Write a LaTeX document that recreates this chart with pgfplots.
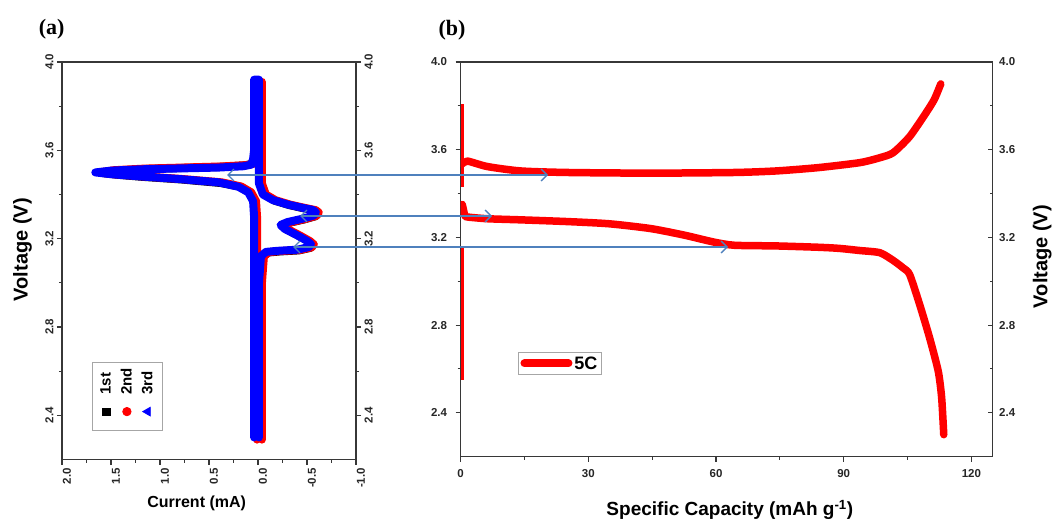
\documentclass[border=0pt]{standalone}
\usepackage{graphicx}
\usepackage{fontspec}
\setmainfont{Liberation Sans}
\newfontfamily\serifbold{Liberation Serif}
\usepackage{pgfplots}
\pgfplotsset{compat=1.18}
\usetikzlibrary{arrows.meta}
\definecolor{arrowblue}{RGB}{79,129,189}
\definecolor{axisgray}{RGB}{55,55,55}
\pgfplotsset{
  base/.style={scale only axis, anchor=south west,
    axis line style={axisgray, line width=1.2pt},
    every tick/.style={axisgray, line width=1.1pt},
    major tick length=5pt, minor tick length=3pt,
    /pgf/number format/assume math mode=true,
    tick label style={font=\bfseries\fontsize{11.5}{13}\selectfont, text=black!85},
  },
  onedec/.style={/pgf/number format/.cd, fixed, fixed zerofill, precision=1},
}
\begin{document}
\begin{tikzpicture}
\path[use as bounding box] (0pt,0pt) rectangle (1054pt,525pt);

% ---------------- panel (a) ----------------
\begin{axis}[base, at={(62pt,65.5pt)}, width=294pt, height=397.5pt,
  xmin=-1, xmax=2, x dir=reverse, ymin=2.2, ymax=4.0,
  xtick={-1,-0.5,0,0.5,1,1.5,2}, minor x tick num=1,
  ytick={2.4,2.8,3.2,3.6,4.0}, minor y tick num=1,
  xtick pos=bottom, ytick pos=left, tick align=outside,
  xticklabel style={onedec, /tikz/rotate=90, /tikz/anchor=east, /tikz/yshift=-5pt},
  yticklabel style={onedec, /tikz/rotate=90, /tikz/anchor=south},
  xlabel={Current (mA)},
  xlabel style={font=\bfseries\fontsize{16}{18}\selectfont, at={(axis description cs:0.458,-0.110)}, anchor=center},
  ylabel={Voltage (V)},
  ylabel style={font=\bfseries\fontsize{20}{22}\selectfont, at={(axis description cs:-0.134,0.528)}, anchor=center, rotate=0},
]
% cycle 1 (black)
\addplot[black, line width=8pt, line join=round, line cap=round] coordinates {
(0.02,2.30) (0.02,3.30) (0.03,3.37) (0.08,3.41) (0.18,3.435) (0.38,3.452) (0.78,3.468) (1.18,3.48) (1.45,3.49) (1.60,3.498)
(1.45,3.507) (1.18,3.515) (0.78,3.52) (0.38,3.525) (0.13,3.532) (0.05,3.54) (0.03,3.565) (0.02,3.60) (0.02,3.90)
(-0.03,3.90) (-0.03,3.45) (-0.07,3.40) (-0.17,3.372) (-0.32,3.352) (-0.47,3.337) (-0.58,3.327) (-0.61,3.317) (-0.59,3.302)
(-0.47,3.287) (-0.32,3.272) (-0.25,3.259) (-0.29,3.242) (-0.42,3.212) (-0.52,3.187) (-0.56,3.172) (-0.54,3.159)
(-0.42,3.147) (-0.22,3.142) (-0.10,3.137) (-0.05,3.117) (-0.03,3.00) (-0.03,2.30)};
% cycle 2 (red)
\addplot[red, line width=8pt, line join=round, line cap=round] coordinates {
(0.01,2.29) (0.01,3.30) (0.02,3.37) (0.07,3.41) (0.17,3.436) (0.37,3.455) (0.77,3.47) (1.17,3.482) (1.47,3.492) (1.62,3.50)
(1.47,3.51) (1.17,3.517) (0.77,3.522) (0.37,3.527) (0.12,3.533) (0.04,3.54) (0.02,3.565) (0.01,3.60) (0.01,3.91)
(-0.04,3.91) (-0.04,3.45) (-0.08,3.40) (-0.18,3.374) (-0.33,3.354) (-0.48,3.339) (-0.59,3.329) (-0.62,3.319) (-0.60,3.304)
(-0.48,3.289) (-0.33,3.274) (-0.26,3.261) (-0.30,3.244) (-0.43,3.214) (-0.53,3.189) (-0.57,3.174) (-0.55,3.161)
(-0.43,3.149) (-0.23,3.144) (-0.11,3.139) (-0.06,3.119) (-0.04,3.00) (-0.04,2.29)};
% cycle 3 (blue)
\addplot[blue, line width=8pt, line join=round, line cap=round] coordinates {
(0.04,2.30) (0.04,3.30) (0.05,3.37) (0.10,3.41) (0.20,3.435) (0.40,3.455) (0.80,3.47) (1.20,3.482) (1.50,3.492) (1.66,3.50)
(1.50,3.508) (1.20,3.514) (0.80,3.518) (0.40,3.522) (0.15,3.528) (0.07,3.535) (0.05,3.56) (0.04,3.60) (0.04,3.92)
(-0.01,3.92) (-0.01,3.45) (-0.05,3.40) (-0.15,3.375) (-0.30,3.355) (-0.45,3.34) (-0.56,3.33) (-0.59,3.32) (-0.57,3.305)
(-0.45,3.29) (-0.30,3.275) (-0.23,3.262) (-0.27,3.245) (-0.40,3.215) (-0.50,3.19) (-0.54,3.175) (-0.52,3.162)
(-0.40,3.150) (-0.20,3.145) (-0.08,3.14) (-0.03,3.12) (-0.01,3.00) (-0.01,2.30)};
\end{axis}
% right ticks of (a)
\begin{axis}[base, at={(62pt,65.5pt)}, width=294pt, height=397.5pt,
  xmin=-1, xmax=2, x dir=reverse, ymin=2.2, ymax=4.0,
  hide x axis, axis y line*=right, ytick pos=right, yticklabel pos=right,
  ytick={2.4,2.8,3.2,3.6,4.0}, minor y tick num=1, tick align=outside,
  yticklabel style={onedec, /tikz/rotate=90, /tikz/anchor=north},
]
\addplot[draw=none, forget plot] coordinates {(0,3)};
\end{axis}
% rotated legend of (a)
\node[inner sep=0pt, outer sep=0pt, anchor=south west] at (92pt,94pt) {\rotatebox{90}{%
\begin{tikzpicture}
\begin{axis}[hide axis, scale only axis, width=1pt, height=1pt,
  xmin=0, xmax=1, ymin=0, ymax=1,
  legend style={at={(0,1)}, anchor=north west,
    draw=gray!70, line width=0.8pt, font=\bfseries\fontsize{15}{17}\selectfont,
    row sep=4.5pt, inner xsep=4pt, inner ysep=6pt,
    /tikz/every odd column/.append style={column sep=5pt}},
  legend cell align=left,
  legend image code/.code={\path[draw=none, fill=none] (0pt,-1pt) rectangle (25pt,1pt); \draw[#1] plot coordinates {(15pt,0pt)};},
]
\addlegendimage{only marks, mark=square*, black, mark size=3.6pt}
\addlegendentry{1st}
\addlegendimage{only marks, mark=*, red, mark size=4.2pt}
\addlegendentry{2nd}
\addlegendimage{only marks, mark=triangle*, blue, mark size=5pt}
\addlegendentry{3rd}
\end{axis}
\end{tikzpicture}}};

% ---------------- panel (b) ----------------
\begin{axis}[base, at={(460.6pt,68.4pt)}, width=532.1pt, height=394.6pt,
  xmin=0, xmax=125, ymin=2.2, ymax=4.0,
  xtick={0,30,60,90,120}, minor x tick num=1,
  ytick={2.4,2.8,3.2,3.6,4.0}, minor y tick num=1,
  xtick pos=bottom, ytick pos=left, tick align=outside,
  yticklabel style={onedec, /tikz/xshift=-5pt},
  xticklabel style={yshift=-4pt},
  xlabel={Specific Capacity (mAh g\textsuperscript{-1})},
  xlabel style={font=\bfseries\fontsize{19}{21}\selectfont, at={(axis description cs:0.506,-0.135)}, anchor=center},
  legend style={at={(axis description cs:0.108,0.265)}, anchor=north west,
    draw=gray!70, line width=0.8pt, font=\bfseries\fontsize{18}{20}\selectfont, inner sep=2pt},
  legend image code/.code={\draw[#1, line width=8pt, line cap=round] (2pt,0pt) -- (46pt,0pt);},
]
\addplot[red, line width=3pt, forget plot] coordinates {(0.4,2.55) (0.4,3.16)};
\addplot[red, line width=3pt, forget plot] coordinates {(0.4,3.43) (0.4,3.81)};
\addplot[red, line width=7.5pt, line join=round, line cap=round, smooth, tension=0.4, forget plot] coordinates {
(0.4,3.535) (1.6,3.548) (6.3,3.523) (14.1,3.503) (25.2,3.496) (44.7,3.493) (64.3,3.496) (74.1,3.503)
(83.9,3.518) (93.8,3.541) (98.6,3.564) (101.6,3.586) (105.5,3.66) (109.4,3.77) (111.3,3.83) (112.8,3.90)};
\addplot[red, line width=7.5pt, line join=round, line cap=round, smooth, tension=0.4] coordinates {
(0.4,3.35) (1.0,3.30) (1.6,3.293) (6.3,3.285) (14.1,3.28) (25.2,3.272) (34.9,3.262) (44.7,3.24) (52.6,3.21)
(59.4,3.179) (64.3,3.164) (74.1,3.161) (83.9,3.155) (88.8,3.150) (93.8,3.140) (98.5,3.13) (101.6,3.095)
(104,3.06) (105.5,3.03) (107.9,2.89) (110.2,2.74) (112.2,2.59) (113,2.47) (113.5,2.30)};
\addlegendentry{5C}
\end{axis}
% right axis of (b)
\begin{axis}[base, at={(460.6pt,68.4pt)}, width=532.1pt, height=394.6pt,
  xmin=0, xmax=125, ymin=2.2, ymax=4.0,
  hide x axis, axis y line*=right, ytick pos=right, yticklabel pos=right,
  ytick={2.4,2.8,3.2,3.6,4.0}, minor y tick num=1, tick align=inside,
  yticklabel style={onedec, /tikz/xshift=3pt},
  ylabel={Voltage (V)},
  ylabel style={font=\bfseries\fontsize{20}{22}\selectfont, at={(axis description cs:1.093,0.507)}, anchor=center, rotate=0},
]
\addplot[draw=none, forget plot] coordinates {(10,3)};
\end{axis}

% arrows
\draw[arrowblue, line width=1.3pt, {Straight Barb[length=6pt,width=12pt]}-{Straight Barb[length=6pt,width=12pt]}] (227pt,350pt) -- (548pt,350pt);
\draw[arrowblue, line width=1.3pt, {Straight Barb[length=6pt,width=12pt]}-{Straight Barb[length=6pt,width=12pt]}] (300pt,309pt) -- (492pt,309pt);
\draw[arrowblue, line width=1.3pt, {Straight Barb[length=6pt,width=12pt]}-{Straight Barb[length=6pt,width=12pt]}] (293pt,278pt) -- (728pt,278pt);

% panel labels
\node[font=\serifbold\bfseries\fontsize{22}{24}\selectfont] at (51.7pt,495.5pt) {(a)};
\node[font=\serifbold\bfseries\fontsize{22}{24}\selectfont] at (452pt,495pt) {(b)};
\end{tikzpicture}
\end{document}
